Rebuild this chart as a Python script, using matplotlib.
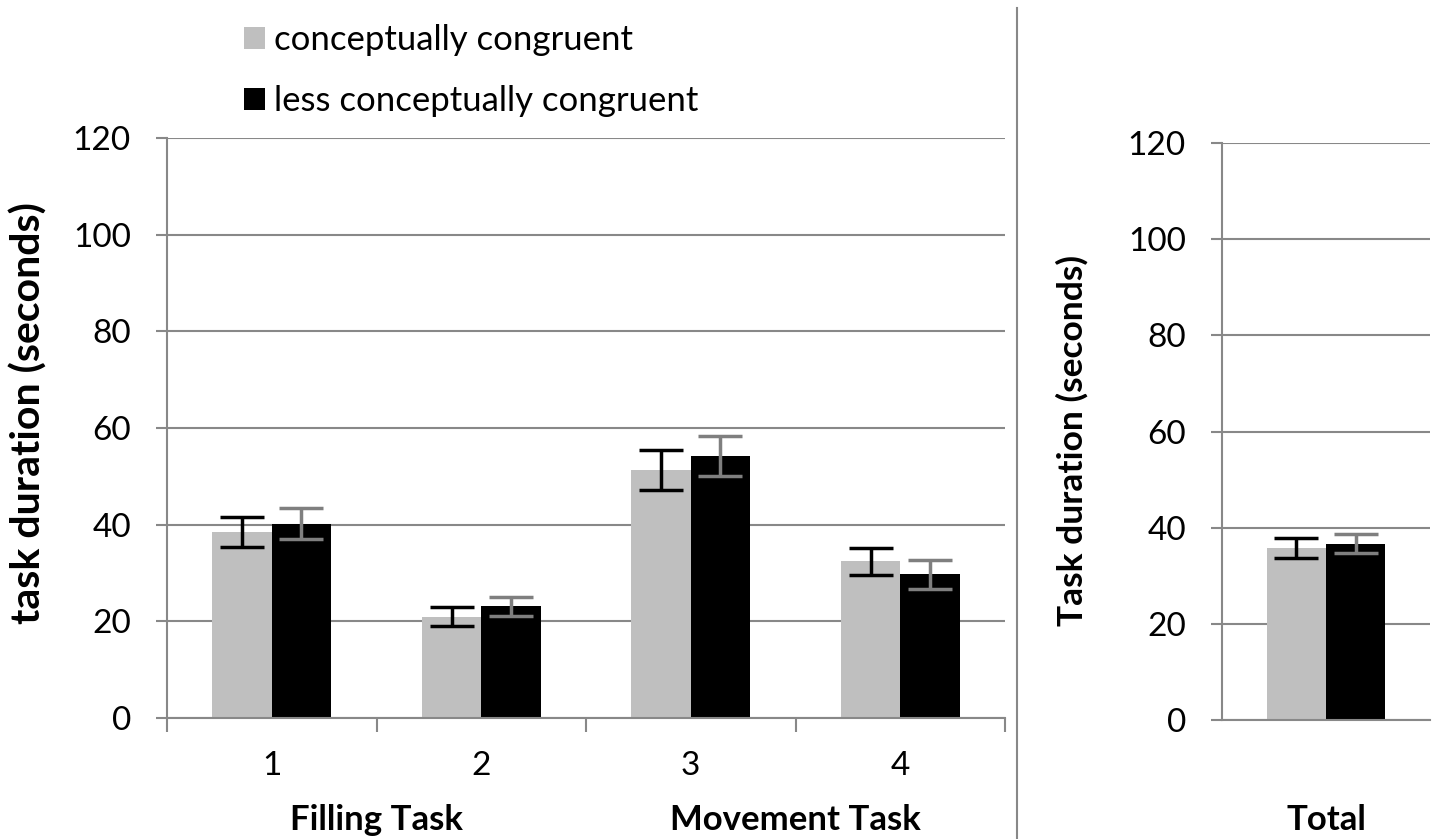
import matplotlib
matplotlib.use("Agg")
import matplotlib.pyplot as plt
import matplotlib.transforms as mtransforms
import numpy as np

plt.rcParams['font.family'] = ['Lato', 'DejaVu Sans']

# ---- data ----
task_labels = ["1", "2", "3", "4"]
group_labels = ["Filling Task", "Movement Task"]
series_names = ["conceptually congruent", "less conceptually congruent"]
congruent_means = [38.4, 21.0, 51.3, 32.4]
congruent_err = [3.1, 1.95, 4.2, 2.85]
less_means = [40.2, 23.1, 54.2, 29.7]
less_err = [3.2, 2.0, 4.05, 3.0]
total_label = "Total"
total_means = [35.8, 36.7]
total_err = [2.1, 2.0]
yticks = [0, 20, 40, 60, 80, 100, 120]

# ---- style ----
W, H = 1438, 839
C_GRAY = "#bfbfbf"
C_BLACK = "#000000"
C_AX = "#888888"
C_EB2 = "#7f7f7f"
FS = 24
BW = 0.284
EBW = 2.5

fig = plt.figure(figsize=(W / 100, H / 100), dpi=100)


def px_axes(l, r, t, b):
    return fig.add_axes([l / W, 1 - b / H, (r - l) / W, (b - t) / H])


def style(ax):
    for s in ["top", "right"]:
        ax.spines[s].set_visible(False)
    for s in ["left", "bottom"]:
        ax.spines[s].set_color(C_AX)
        ax.spines[s].set_linewidth(1.5)
    ax.set_ylim(0, 120)
    ax.set_yticks(yticks)
    ax.set_yticklabels([str(v) for v in yticks], fontsize=FS)
    ax.tick_params(axis="y", length=8, width=1.5, color=C_AX, pad=18)
    ax.yaxis.grid(True, color=C_AX, linewidth=1.5)
    ax.set_axisbelow(True)


# left panel
L, R, T, B = 167, 1005, 138, 718
ax = px_axes(L, R, T, B)
style(ax)
x = np.arange(len(task_labels))
ax.bar(x - BW / 2, congruent_means, BW, color=C_GRAY, label=series_names[0], zorder=2)
ax.bar(x + BW / 2, less_means, BW, color=C_BLACK, label=series_names[1], zorder=2)
ax.errorbar(x - BW / 2, congruent_means, yerr=congruent_err, fmt="none", ecolor="black",
            elinewidth=EBW, capsize=15.5, capthick=EBW, zorder=3)
ax.errorbar(x + BW / 2, less_means, yerr=less_err, fmt="none", ecolor=C_EB2,
            elinewidth=EBW, capsize=15.5, capthick=EBW, zorder=3)
ax.set_xlim(-0.5, len(task_labels) - 0.5)
ax.set_xticks(x)
ax.set_xticklabels(task_labels, fontsize=FS)
ax.tick_params(axis="x", which="major", length=0, pad=24)
ax.set_xticks(np.arange(-0.5, len(task_labels), 1.0), minor=True)
ax.tick_params(axis="x", which="minor", length=10, width=1.5, color=C_AX)
ax.set_ylabel("task duration (seconds)", fontsize=29.5, fontweight="bold", va="center")
ax.yaxis.set_label_coords((29 - L) / (R - L), (B - 413) / (B - T))

trans = mtransforms.blended_transform_factory(ax.transData, fig.transFigure)
for i, g in enumerate(group_labels):
    ax.text(2 * i + 0.5, 1 - 820 / H, g, transform=trans, ha="center", va="center",
            fontsize=25, fontweight="bold")

# right panel
L2, R2, T2, B2 = 1222, 1430, 143, 720
ax2 = px_axes(L2, R2, T2, B2)
style(ax2)
ax2.bar([-BW / 2], [total_means[0]], BW, color=C_GRAY, zorder=2)
ax2.bar([BW / 2], [total_means[1]], BW, color=C_BLACK, zorder=2)
ax2.errorbar([-BW / 2], [total_means[0]], yerr=[total_err[0]], fmt="none", ecolor="black",
             elinewidth=EBW, capsize=15.5, capthick=EBW, zorder=3)
ax2.errorbar([BW / 2], [total_means[1]], yerr=[total_err[1]], fmt="none", ecolor=C_EB2,
             elinewidth=EBW, capsize=15.5, capthick=EBW, zorder=3)
ax2.set_xlim(-0.5, 0.5)
ax2.set_xticks([])
ax2.set_ylabel("Task duration (seconds)", fontsize=25.5, fontweight="bold", va="center")
ax2.yaxis.set_label_coords((1072 - L2) / (R2 - L2), (B2 - 440) / (B2 - T2))
trans2 = mtransforms.blended_transform_factory(ax2.transData, fig.transFigure)
ax2.text(0, 1 - 820 / H, total_label, transform=trans2, ha="center", va="center",
         fontsize=25, fontweight="bold")

# divider line
fig.add_artist(plt.Line2D([1017 / W, 1017 / W], [0, 1 - 8 / H], transform=fig.transFigure,
                          color=C_AX, linewidth=1.5))

# legend
fig.legend(loc="upper left", bbox_to_anchor=(230 / W, 1 - 10 / H), frameon=False,
           fontsize=25, handlelength=0.6, handleheight=0.6, handletextpad=0.28,
           labelspacing=0.85, borderaxespad=0)

fig.savefig("out.png", dpi=100)
